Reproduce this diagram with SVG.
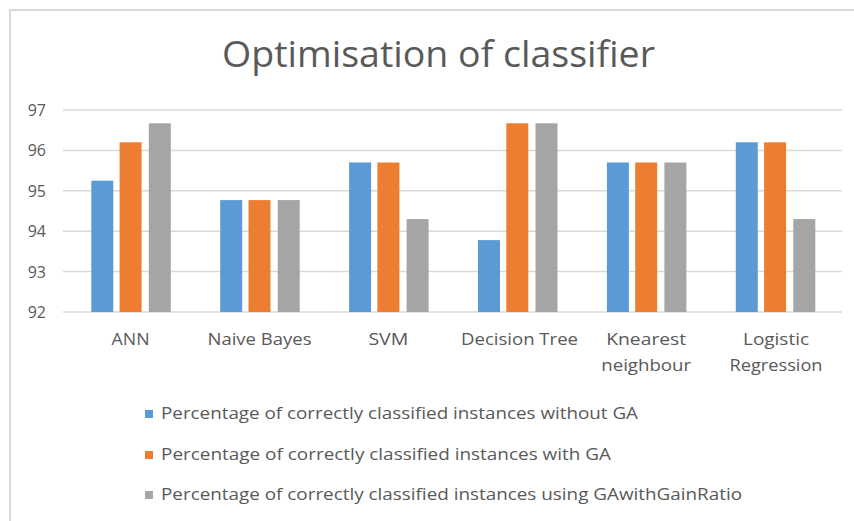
<svg xmlns="http://www.w3.org/2000/svg" width="854" height="521" viewBox="0 0 854 521">
  <style>
    text { font-family: "Open Sans", "Liberation Sans", sans-serif; fill: #595959; }
    .title { font-size: 36px; text-anchor: middle; }
    .tick { font-size: 16px; text-anchor: end; }
    .cat { font-size: 16.5px; text-anchor: middle; }
    .leg { font-size: 15.5px; }
    .grid { stroke: #D9D9D9; stroke-width: 1.5; }
    .s1 { fill: #5B9BD5; }
    .s2 { fill: #ED7D31; }
    .s3 { fill: #A5A5A5; }
  </style>

  <rect x="0" y="0" width="854" height="521" fill="#ffffff"/>
  <!-- chart frame -->
  <path d="M10 530 V10 H860" fill="none" stroke="#D9D9D9" stroke-width="2"/>

  <text id="title" class="title" x="438.5" y="67" textLength="433" lengthAdjust="spacingAndGlyphs">Optimisation of classifier</text>

  <!-- value axis gridlines and labels -->
  <g id="gridlines">
    <line class="grid" x1="63" y1="110" x2="842" y2="110"/>
    <line class="grid" x1="63" y1="150.4" x2="842" y2="150.4"/>
    <line class="grid" x1="63" y1="190.8" x2="842" y2="190.8"/>
    <line class="grid" x1="63" y1="231.2" x2="842" y2="231.2"/>
    <line class="grid" x1="63" y1="271.6" x2="842" y2="271.6"/>
    <line class="grid" x1="63" y1="312" x2="842" y2="312"/>
  </g>
  <g id="value-axis">
    <text class="tick" x="46" y="116">97</text>
    <text class="tick" x="46" y="156.4">96</text>
    <text class="tick" x="46" y="196.8">95</text>
    <text class="tick" x="46" y="237.2">94</text>
    <text class="tick" x="46" y="277.6">93</text>
    <text class="tick" x="46" y="318">92</text>
  </g>

  <!-- bars: one group per classifier -->
  <g id="ann">
    <rect class="s1" x="91.3" y="180.7" width="22" height="131.3"/>
    <rect class="s2" x="119.6" y="142.3" width="22" height="169.7"/>
    <rect class="s3" x="148.8" y="123.3" width="22" height="188.7"/>
    <text class="cat" x="130.6" y="345" textLength="38" lengthAdjust="spacingAndGlyphs">ANN</text>
  </g>
  <g id="naive-bayes">
    <rect class="s1" x="220.2" y="200.1" width="22" height="111.9"/>
    <rect class="s2" x="248.5" y="200.1" width="22" height="111.9"/>
    <rect class="s3" x="277.7" y="200.1" width="22" height="111.9"/>
    <text class="cat" x="259.5" y="345" textLength="104" lengthAdjust="spacingAndGlyphs">Naive Bayes</text>
  </g>
  <g id="svm">
    <rect class="s1" x="349.1" y="162.5" width="22" height="149.5"/>
    <rect class="s2" x="377.4" y="162.5" width="22" height="149.5"/>
    <rect class="s3" x="406.6" y="219.1" width="22" height="92.9"/>
    <text class="cat" x="388.4" y="345" textLength="40" lengthAdjust="spacingAndGlyphs">SVM</text>
  </g>
  <g id="decision-tree">
    <rect class="s1" x="478.0" y="240.1" width="22" height="71.9"/>
    <rect class="s2" x="506.3" y="123.3" width="22" height="188.7"/>
    <rect class="s3" x="535.5" y="123.3" width="22" height="188.7"/>
    <text class="cat" x="519.5" y="345" textLength="117" lengthAdjust="spacingAndGlyphs">Decision Tree</text>
  </g>
  <g id="k-nearest">
    <rect class="s1" x="606.9" y="162.5" width="22" height="149.5"/>
    <rect class="s2" x="635.2" y="162.5" width="22" height="149.5"/>
    <rect class="s3" x="664.4" y="162.5" width="22" height="149.5"/>
    <text class="cat" x="646.2" y="345" textLength="80" lengthAdjust="spacingAndGlyphs">Knearest</text>
    <text class="cat" x="646.2" y="371" textLength="90" lengthAdjust="spacingAndGlyphs">neighbour</text>
  </g>
  <g id="logistic-regression">
    <rect class="s1" x="735.8" y="142.3" width="22" height="169.7"/>
    <rect class="s2" x="764.1" y="142.3" width="22" height="169.7"/>
    <rect class="s3" x="793.3" y="219.1" width="22" height="92.9"/>
    <text class="cat" x="776" y="345" textLength="66" lengthAdjust="spacingAndGlyphs">Logistic</text>
    <text class="cat" x="776" y="371" textLength="93" lengthAdjust="spacingAndGlyphs">Regression</text>
  </g>

  <!-- legend -->
  <g id="legend">
    <rect class="s1" x="145" y="410" width="8" height="8"/>
    <text class="leg" x="161" y="419" textLength="477" lengthAdjust="spacingAndGlyphs">Percentage of correctly classified instances without GA</text>
    <rect class="s2" x="145" y="451" width="8" height="8"/>
    <text class="leg" x="161" y="460" textLength="450" lengthAdjust="spacingAndGlyphs">Percentage of correctly classified instances with GA</text>
    <rect class="s3" x="145" y="491" width="8" height="8"/>
    <text class="leg" x="161" y="500" textLength="581" lengthAdjust="spacingAndGlyphs">Percentage of correctly classified instances using GAwithGainRatio</text>
  </g>
</svg>
